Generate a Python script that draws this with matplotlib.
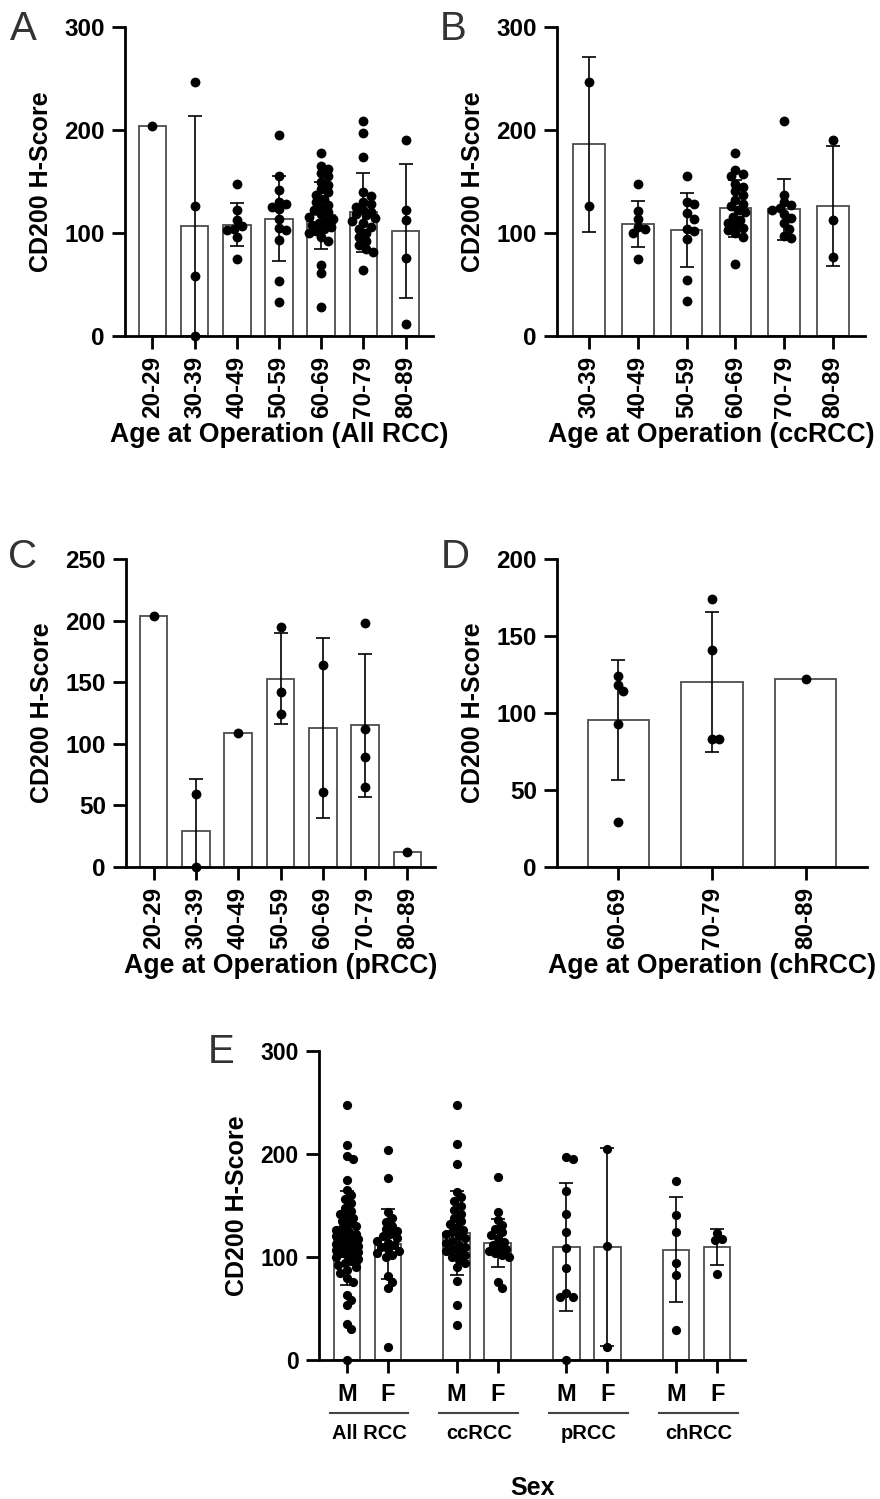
import matplotlib
matplotlib.use('Agg')
import matplotlib.pyplot as plt
import matplotlib.transforms as mtrans
import numpy as np

plt.rcParams['font.family'] = ['Liberation Sans', 'DejaVu Sans']
plt.rcParams['font.weight'] = 'bold'
plt.rcParams['axes.labelweight'] = 'bold'

# ---------------- data ----------------
A_cats = ['20-29', '30-39', '40-49', '50-59', '60-69', '70-79', '80-89']
A_means = [204, 107, 108, 114, 117, 120, 102]
A_sd = [np.nan, 107, 21, 41, 32.5, 38, 65]
A_pts = [
    [204],
    [247, 126, 58, 0],
    [148, 122, 113, 107, 104, 103, 96, 75],
    [195, 155, 142, 130, 128, 125, 123, 114, 105, 103, 93, 53, 33],
    [178, 165, 162, 158, 155, 150, 147, 143, 140, 137, 133, 130, 127, 124, 122,
     120, 118, 116, 114, 112, 110, 108, 106, 104, 102, 100, 96, 92, 69, 61, 28],
    [209, 197, 174, 140, 136, 130, 128, 125, 122, 120, 118, 117, 115, 112, 110,
     106, 104, 100, 96, 92, 88, 84, 82, 64],
    [190, 122, 113, 76, 12],
]

B_cats = ['30-39', '40-49', '50-59', '60-69', '70-79', '80-89']
B_means = [186, 109, 103, 124, 123, 126]
B_sd = [85, 22.5, 36, 27.5, 29.5, 58]
B_pts = [
    [247, 126],
    [148, 121, 114, 106, 104, 100, 75],
    [155, 130, 128, 119, 114, 104, 102, 94, 54, 34],
    [178, 161, 157, 155, 148, 145, 141, 137, 132, 128, 126, 122, 120, 116, 113,
     110, 107, 105, 103, 100, 96, 70],
    [209, 137, 130, 127, 124, 122, 118, 115, 110, 104, 97, 95],
    [190, 113, 77],
]

C_cats = ['20-29', '30-39', '40-49', '50-59', '60-69', '70-79', '80-89']
C_means = [204, 29.5, 109, 153, 113, 115, 12.5]
C_sd = [np.nan, 42, np.nan, 37, 73, 58, np.nan]
C_pts = [[204], [59, 0], [109], [195, 142, 124], [164, 61], [198, 112, 89, 65], [12.5]]

D_cats = ['60-69', '70-79', '80-89']
D_means = [95.5, 120, 122]
D_sd = [39, 45.5, np.nan]
D_pts = [[124, 118, 114, 93, 29], [174, 141, 83, 83], [122]]

E_groups = ['All RCC', 'ccRCC', 'pRCC', 'chRCC']
E_sex = ['M', 'F']
E_means = [118.5, 113, 123.5, 113.5, 109.5, 109.5, 107, 110]
E_sd = [46, 34, 40.5, 23.5, 62, 96, 51, 17.5]
E_pts = [
    [248, 209, 198, 195, 175, 165, 160, 156, 152, 148, 145, 142, 140, 138, 135,
     132, 130, 128, 126, 124, 122, 121, 120, 119, 118, 117, 116, 115, 114, 113,
     112, 111, 110, 109, 108, 107, 106, 105, 104, 103, 102, 100, 98, 96, 94, 92,
     90, 87, 84, 80, 76, 63, 58, 53, 35, 30, 0],
    [204, 177, 144, 138, 134, 130, 127, 125, 122, 120, 118, 116, 114, 112, 110,
     108, 106, 104, 102, 100, 82, 76, 70, 13],
    [248, 210, 190, 163, 158, 154, 150, 146, 142, 138, 135, 132, 129, 126, 124,
     122, 120, 118, 116, 114, 112, 110, 108, 106, 104, 102, 100, 97, 94, 90, 77, 53, 34],
    [178, 144, 136, 131, 127, 124, 121, 118, 115, 112, 110, 108, 106, 104, 102, 100, 76, 70],
    [197, 195, 164, 142, 124, 109, 89, 65, 61, 61, 0],
    [205, 111, 13],
    [174, 141, 124, 94, 83, 29],
    [123, 117, 116.5, 83.5],
]

# ---------------- layout ----------------
W, H = 880, 1499
fig = plt.figure(figsize=(W / 100, H / 100), dpi=100)


def add_ax(l, t, r, b):
    return fig.add_axes([l / W, 1 - b / H, (r - l) / W, (b - t) / H])


def swarm(vals, center, px_x, px_y, d, max_off):
    placed = []
    xs = []
    step = d * 0.25
    nk = int(max_off / step)
    cands = [0.0]
    for k in range(1, nk + 1):
        cands += [k * step, -k * step]
    for v in vals:
        y = v * px_y
        best, best_score = 0.0, -1
        for x in cands:
            md = min([np.hypot(x - a, y - b) for a, b in placed] + [1e9])
            if md >= 0.75 * d:
                best = x
                break
            if md > best_score + 0.5:
                best, best_score = x, md
        placed.append((best, y))
        xs.append(center + best / px_x)
    return xs


def style(ax, ymax, yticks, fs):
    for s in ['top', 'right']:
        ax.spines[s].set_visible(False)
    for s in ['left', 'bottom']:
        ax.spines[s].set_linewidth(2)
    ax.set_ylim(0, ymax)
    ax.set_yticks(yticks)
    ax.tick_params(width=2, length=9.5, labelsize=fs, pad=5)


def draw(ax, pos, means, sds, pts, d_px, s, max_off):
    ax.bar(pos, means, width=0.65, color='white', edgecolor='#4d4d4d', lw=1.3, zorder=1)
    bb = ax.get_position()
    xl = ax.get_xlim()
    yl = ax.get_ylim()
    px_x = bb.width * W / (xl[1] - xl[0])
    px_y = bb.height * H / (yl[1] - yl[0])
    for p, v in zip(pos, pts):
        xs = swarm(v, p, px_x, px_y, d_px, max_off)
        ax.scatter(xs, v, s=s, color='black', lw=0, zorder=3, clip_on=False)
    for p, m, sd in zip(pos, means, sds):
        if not np.isnan(sd):
            ax.errorbar(p, m, yerr=sd, fmt='none', ecolor='black', elinewidth=1.2,
                        capsize=4.7, capthick=1.2, zorder=4)


def age_panel(box, cats, means, sds, pts, ymax, yticks, xlabel, letter, letter_xy):
    ax = add_ax(*box)
    pos = np.arange(len(cats))
    ax.set_xlim(-0.65, len(cats) - 1 + 0.65)
    style(ax, ymax, yticks, 17.5)
    draw(ax, pos, means, sds, pts, 9.5, 50, 14)
    ax.set_xticks(pos)
    ax.set_xticklabels(cats, rotation=90)
    ax.set_ylabel('CD200 H-Score', fontsize=18, fontweight='bold', labelpad=8)
    ax.set_xlabel(xlabel, fontsize=19.2, fontweight='bold', labelpad=3)
    fig.text(letter_xy[0] / W, 1 - letter_xy[1] / H, letter, fontsize=29,
             fontweight='normal', color='#333333', ha='left', va='baseline')
    return ax


age_panel((125, 27, 433, 336), A_cats, A_means, A_sd, A_pts, 300, [0, 100, 200, 300],
          'Age at Operation (All RCC)', 'A', (10, 40))
age_panel((557, 27, 865, 336), B_cats, B_means, B_sd, B_pts, 300, [0, 100, 200, 300],
          'Age at Operation (ccRCC)', 'B', (440, 40))
age_panel((126, 559, 435, 867), C_cats, C_means, C_sd, C_pts, 250, [0, 50, 100, 150, 200, 250],
          'Age at Operation (pRCC)', 'C', (8, 568))
age_panel((557, 559, 867, 867), D_cats, D_means, D_sd, D_pts, 200, [0, 50, 100, 150, 200],
          'Age at Operation (chRCC)', 'D', (441, 568))

# ---------------- panel E ----------------
axE = add_ax(319, 1051, 745, 1360)
group_step = 2.68
posE = [g * group_step + j for g in range(len(E_groups)) for j in range(len(E_sex))]
axE.set_xlim(-0.68, posE[-1] + 0.68)
style(axE, 300, [0, 100, 200, 300], 16.5)
draw(axE, posE, E_means, E_sd, E_pts, 8.8, 44, 13)
axE.set_xticks(posE)
axE.set_xticklabels(E_sex * len(E_groups))
axE.tick_params(axis='x', pad=7, labelsize=17)
axE.set_ylabel('CD200 H-Score', fontsize=18, fontweight='bold', labelpad=8)

trans = mtrans.blended_transform_factory(axE.transData, axE.transAxes)
y_line = (1360 - 1413) / 309
y_lab = (1360 - 1439) / 309
for g, name in enumerate(E_groups):
    c = g * group_step + 0.5
    axE.plot([c - 0.92, c + 1.0], [y_line, y_line], color='#444444', lw=1.5,
             transform=trans, clip_on=False)
    axE.text(c + 0.05, y_lab, name, transform=trans, ha='center', va='baseline',
             fontsize=14.5, fontweight='bold')

fig.text(208 / W, 1 - 1063 / H, 'E', fontsize=29, fontweight='normal', color='#333333',
         ha='left', va='baseline')
fig.text(533 / W, 1 - 1495 / H, 'Sex', fontsize=18, fontweight='bold',
         ha='center', va='baseline')

fig.savefig('out.png', dpi=100, facecolor='white')
